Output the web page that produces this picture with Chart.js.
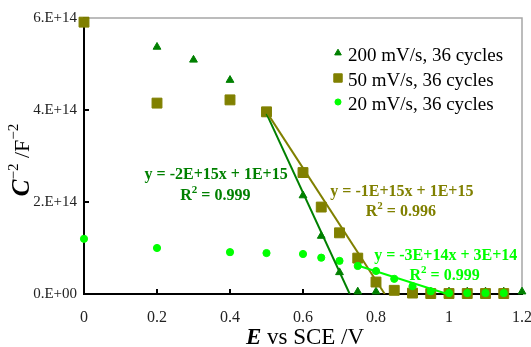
<!DOCTYPE html>
<html>
<head>
<meta charset="utf-8">
<script src="https://cdn.jsdelivr.net/npm/chart.js@4/dist/chart.umd.min.js"></script>
<style>
  html, body { margin: 0; padding: 0; background: #fff; }
  #wrap { width: 531px; height: 347px; }
</style>
</head>
<body>
<div id="wrap"><canvas id="chart" width="531" height="347"></canvas></div>
<script>
// --- datos ---
const seriesNames = ["200 mV/s, 36 cycles", "50 mV/s, 36 cycles", "20 mV/s, 36 cycles"];

const e200 = [0.2, 0.3, 0.4, 0.5, 0.6, 0.65, 0.7, 0.75, 0.8, 0.85, 0.9, 0.95, 1.0, 1.05, 1.1, 1.15, 1.2];
const c200 = [5.37e14, 5.09e14, 4.65e14, 3.92e14, 2.14e14, 1.26e14, 0.47e14, 0.05e14, 0.05e14, 0.05e14, 0.05e14, 0.05e14, 0.05e14, 0.05e14, 0.05e14, 0.05e14, 0.05e14];

const e50 = [0, 0.2, 0.4, 0.5, 0.6, 0.65, 0.7, 0.75, 0.8, 0.85, 0.9, 0.95, 1.0, 1.05, 1.1, 1.15];
const c50 = [5.91e14, 4.15e14, 4.22e14, 3.96e14, 2.64e14, 1.89e14, 1.33e14, 0.78e14, 0.26e14, 0.08e14, 0.02e14, 0.01e14, 0.01e14, 0.01e14, 0.01e14, 0.01e14];

const e20 = [0, 0.2, 0.4, 0.5, 0.6, 0.65, 0.7, 0.75, 0.8, 0.85, 0.9, 0.95, 1.0, 1.05, 1.1, 1.15];
const c20 = [1.2e14, 1.0e14, 0.91e14, 0.89e14, 0.87e14, 0.79e14, 0.72e14, 0.61e14, 0.5e14, 0.33e14, 0.17e14, 0.06e14, 0.02e14, 0.02e14, 0.02e14, 0.02e14];

// lineas de tendencia (extremos)
const fit200X = [0.5, 0.728];
const fit200Y = [3.92e14, 0];
const fit50X = [0.5, 0.824];
const fit50Y = [3.96e14, 0];
const fit20X = [0.752, 0.995];
const fit20Y = [0.615e14, 0];

const fitEquations = ["y = -2E+15x + 1E+15", "y = -1E+15x + 1E+15", "y = -3E+14x + 3E+14"];
const fitR2 = ["0.999", "0.996", "0.999"];

const xTicks = [0, 0.2, 0.4, 0.6, 0.8, 1, 1.2];
const yTicks = [0, 2e14, 4e14, 6e14];

const colors = ["#008000", "#808000", "#00ff00"];
const SERIF = "'Liberation Serif', 'Times New Roman', serif";

const pts = (xs, ys) => xs.map((x, i) => ({ x, y: ys[i] }));

// texto con partes (cursiva, superindice...)
function richWidth(ctx, parts) {
  let w = 0;
  parts.forEach(p => { ctx.font = p.f; w += ctx.measureText(p.t).width; });
  return w;
}
function drawRich(ctx, parts, x, y, color) {
  let cx = x - richWidth(ctx, parts) / 2;
  ctx.fillStyle = color;
  ctx.textBaseline = "middle";
  ctx.textAlign = "left";
  parts.forEach(p => {
    ctx.font = p.f;
    ctx.fillText(p.t, cx, y + (p.dy || 0));
    cx += ctx.measureText(p.t).width;
  });
}

const overlay = {
  id: "overlay",
  beforeDatasetsDraw(chart) {
    const { ctx, chartArea: a, scales } = chart;
    ctx.save();
    // marco gris arriba y derecha
    ctx.strokeStyle = "#a6a6a6";
    ctx.lineWidth = 1.5;
    ctx.beginPath();
    ctx.moveTo(a.left, a.top);
    ctx.lineTo(a.right, a.top);
    ctx.lineTo(a.right, a.bottom);
    ctx.stroke();
    // ticks hacia dentro
    ctx.strokeStyle = "#000";
    ctx.lineWidth = 2;
    ctx.beginPath();
    xTicks.forEach(v => {
      if (v === 0) return;
      const px = scales.x.getPixelForValue(v);
      ctx.moveTo(px, a.bottom);
      ctx.lineTo(px, a.bottom - 5);
    });
    yTicks.forEach(v => {
      if (v === 0) return;
      const py = scales.y.getPixelForValue(v);
      ctx.moveTo(a.left, py);
      ctx.lineTo(a.left + 5, py);
    });
    ctx.stroke();
    ctx.restore();
  },
  afterDraw(chart) {
    const { ctx, scales } = chart;
    ctx.save();

    // titulo eje x
    drawRich(ctx, [
      { t: "E", f: "italic bold 23px " + SERIF },
      { t: " vs SCE /V", f: "23px " + SERIF }
    ], 305, 338, "#000");

    // titulo eje y (rotado)
    ctx.save();
    ctx.translate(23, 160);
    ctx.rotate(-Math.PI / 2);
    drawRich(ctx, [
      { t: "C", f: "italic bold 25px " + SERIF },
      { t: "\u22122", f: "15px " + SERIF, dy: -9 },
      { t: " /F", f: "22px " + SERIF },
      { t: "\u22122", f: "15px " + SERIF, dy: -9 }
    ], 0, 0, "#000");
    ctx.restore();

    // ecuaciones de ajuste
    const eqPos = [
      { x: 0.362, y: 2.58e14 },
      { x: 0.871, y: 2.22e14 },
      { x: 0.991, y: 0.82e14 }
    ];
    const rPos = [
      { x: 0.36, y: 2.13e14 },
      { x: 0.868, y: 1.78e14 },
      { x: 0.988, y: 0.39e14 }
    ];
    fitEquations.forEach((eq, i) => {
      const px = scales.x.getPixelForValue(eqPos[i].x);
      const py = scales.y.getPixelForValue(eqPos[i].y);
      drawRich(ctx, [{ t: eq, f: "bold 16px " + SERIF }], px, py, colors[i]);
      const rx = scales.x.getPixelForValue(rPos[i].x);
      const ry = scales.y.getPixelForValue(rPos[i].y);
      drawRich(ctx, [
        { t: "R", f: "bold 16px " + SERIF },
        { t: "2", f: "bold 11px " + SERIF, dy: -6 },
        { t: " = " + fitR2[i], f: "bold 16px " + SERIF }
      ], rx, ry, colors[i]);
    });

    // leyenda
    const legendX = 338, legendY = [56, 81, 105];
    chart.data.datasets.slice(0, 3).forEach((ds, i) => {
      ctx.fillStyle = ds.backgroundColor;
      ctx.strokeStyle = ds.borderColor;
      Chart.helpers.drawPoint(ctx, {
        pointStyle: ds.pointStyle,
        radius: ds.pointRadius * 0.85,
        rotation: 0,
        borderWidth: 1
      }, legendX, legendY[i] - 3);
      ctx.font = "19px " + SERIF;
      ctx.fillStyle = "#000";
      ctx.textAlign = "left";
      ctx.textBaseline = "middle";
      ctx.fillText(seriesNames[i], 348, legendY[i]);
    });
    ctx.restore();
  }
};

const ctx = document.getElementById("chart").getContext("2d");
new Chart(ctx, {
  type: "scatter",
  data: {
    datasets: [
      { label: seriesNames[0], data: pts(e200, c200), pointStyle: "triangle", pointRadius: 4.5,
        backgroundColor: colors[0], borderColor: colors[0], borderWidth: 1, order: 5, clip: false },
      { label: seriesNames[1], data: pts(e50, c50), pointStyle: "rect", pointRadius: 7,
        backgroundColor: colors[1], borderColor: colors[1], borderWidth: 1, order: 4, clip: false },
      { label: seriesNames[2], data: pts(e20, c20), pointStyle: "circle", pointRadius: 3.6,
        backgroundColor: colors[2], borderColor: colors[2], borderWidth: 1, order: 3, clip: false },
      { label: "fit200", data: pts(fit200X, fit200Y), showLine: true, pointRadius: 0,
        borderColor: colors[0], borderWidth: 2, order: 2 },
      { label: "fit50", data: pts(fit50X, fit50Y), showLine: true, pointRadius: 0,
        borderColor: colors[1], borderWidth: 2, order: 1 },
      { label: "fit20", data: pts(fit20X, fit20Y), showLine: true, pointRadius: 0,
        borderColor: colors[2], borderWidth: 2, order: 0 }
    ]
  },
  options: {
    responsive: false,
    animation: false,
    devicePixelRatio: 1,
    layout: { padding: { top: 18, right: 9, left: 0, bottom: 0 } },
    plugins: { legend: { display: false }, tooltip: { enabled: false } },
    scales: {
      x: {
        type: "linear", min: 0, max: 1.2,
        afterBuildTicks: s => { s.ticks = xTicks.map(v => ({ value: v })); },
        afterFit: s => { s.height = 53; s.paddingLeft = 0; s.paddingRight = 0; },
        grid: { display: false, drawTicks: false },
        border: { display: true, color: "#000", width: 2 },
        ticks: {
          padding: 14,
          color: "#222",
          font: { family: SERIF, size: 16 },
          callback: v => String(Math.round(v * 10) / 10)
        }
      },
      y: {
        type: "linear", min: 0, max: 6e14,
        afterBuildTicks: s => { s.ticks = yTicks.map(v => ({ value: v })); },
        afterFit: s => { s.width = 84; s.paddingTop = 0; s.paddingBottom = 0; },
        grid: { display: false, drawTicks: false },
        border: { display: true, color: "#000", width: 2 },
        ticks: {
          padding: 7,
          color: "#222",
          font: { family: SERIF, size: 15 },
          callback: v => (v / 1e14) + ".E+" + (v === 0 ? "00" : "14")
        }
      }
    }
  },
  plugins: [overlay]
});
</script>
</body>
</html>
